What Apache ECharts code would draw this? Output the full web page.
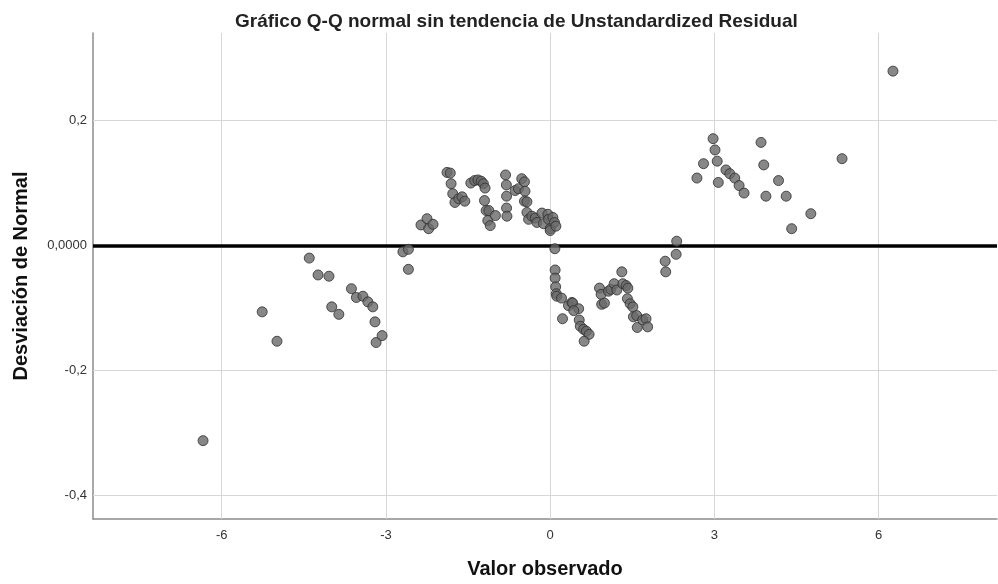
<!DOCTYPE html>
<html>
<head>
<meta charset="utf-8">
<title>Gráfico Q-Q normal sin tendencia</title>
<script src="https://cdn.jsdelivr.net/npm/echarts@6/dist/echarts.min.js"></script>
<style>
  html, body { margin: 0; padding: 0; background: #fff; }
  #chart { width: 998px; height: 584px; }
</style>
</head>
<body>
<div id="chart"></div>
<script>
// valores observados (eje X) y desviación de la normal (eje Y)
const observado = [
  -6.34, -5.26, -4.99, -4.40, -4.24, -4.04, -3.99, -3.86, -3.63, -3.54,
  -3.42, -3.33, -3.24, -3.20, -3.18, -3.07, -2.69, -2.59, -2.59, -2.36,
  -2.25, -2.22, -2.14, -1.885, -1.825, -1.81, -1.78, -1.74, -1.67, -1.61,
  -1.56, -1.45, -1.38, -1.32, -1.26, -1.22, -1.20, -1.19, -1.17, -1.14,
  -1.12, -1.095, -1.00, -0.815, -0.80, -0.797, -0.797, -0.79, -0.64, -0.58,
  -0.52, -0.47, -0.46, -0.47, -0.425, -0.425, -0.395, -0.334, -0.274, -0.243,
  -0.151, -0.122, -0.042, -0.03, 0.0, 0.0, 0.049, 0.078, 0.104, 0.085,
  0.09, 0.09, 0.10, 0.11, 0.12, 0.207, 0.225, 0.334, 0.395, 0.41,
  0.52, 0.43, 0.53, 0.55, 0.61, 0.66, 0.71, 0.62, 0.90, 0.93,
  0.94, 0.99, 1.064, 1.107, 1.168, 1.217, 1.308, 1.327, 1.387, 1.418,
  1.41, 1.46, 1.51, 1.52, 1.58, 1.59, 1.69, 1.75, 1.78, 2.10,
  2.11, 2.31, 2.30, 2.68, 2.80, 2.975, 3.01, 3.05, 3.07, 3.21,
  3.28, 3.37, 3.45, 3.54, 3.85, 3.90, 3.94, 4.17, 4.31, 4.41,
  4.76, 5.33, 6.26
];
const desviacion = [
  -0.312, -0.106, -0.153, -0.020, -0.047, -0.049, -0.098, -0.110, -0.069, -0.083,
  -0.081, -0.090, -0.098, -0.122, -0.155, -0.144, -0.010, -0.006, -0.038, 0.033,
  0.043, 0.027, 0.034, 0.117, 0.116, 0.099, 0.083, 0.069, 0.075, 0.078,
  0.071, 0.100, 0.104, 0.105, 0.103, 0.099, 0.072, 0.092, 0.056, 0.040,
  0.056, 0.032, 0.048, 0.113, 0.097, 0.079, 0.060, 0.047, 0.088, 0.091,
  0.107, 0.102, 0.087, 0.071, 0.070, 0.053, 0.042, 0.047, 0.044, 0.037,
  0.052, 0.035, 0.050, 0.042, 0.027, 0.024, 0.045, 0.037, 0.031, -0.005,
  -0.039, -0.052, -0.066, -0.077, -0.081, -0.084, -0.117, -0.096, -0.091, -0.092,
  -0.101, -0.104, -0.119, -0.129, -0.134, -0.137, -0.142, -0.153, -0.068, -0.078,
  -0.094, -0.092, -0.073, -0.070, -0.061, -0.071, -0.042, -0.061, -0.064, -0.068,
  -0.085, -0.093, -0.098, -0.114, -0.112, -0.131, -0.119, -0.117, -0.130, -0.025,
  -0.042, 0.007, -0.014, 0.108, 0.131, 0.171, 0.153, 0.135, 0.101, 0.121,
  0.115, 0.108, 0.096, 0.084, 0.165, 0.129, 0.079, 0.104, 0.079, 0.027,
  0.051, 0.139, 0.279
];
const xTicks = [-6, -3, 0, 3, 6];
const xTickLabels = ['-6', '-3', '0', '3', '6'];
const yTicks = [0.2, 0, -0.2, -0.4];
const yTickLabels = ['0,2', '0,0000', '-0,2', '-0,4'];

const puntos = observado.map((v, i) => [v, desviacion[i]]);
const FONT = '"Liberation Sans", Arial, sans-serif';
const gridColor = '#d6d6d6';

const chart = echarts.init(document.getElementById('chart'));

chart.setOption({
  backgroundColor: '#fff',
  animation: false,
  title: {
    text: 'Gráfico Q-Q normal sin tendencia de Unstandardized Residual',
    left: 230, top: 7,
    textStyle: { fontFamily: FONT, fontSize: 19, fontWeight: 'bold', color: '#222' }
  },
  grid: { left: 93, right: 1, top: 33, bottom: 64 },
  xAxis: {
    type: 'value', min: -8.35, max: 8.16,
    name: 'Valor observado', nameLocation: 'middle', nameGap: 40,
    nameTextStyle: { fontFamily: FONT, fontSize: 20, fontWeight: 'bold', color: '#111' },
    axisLine: { show: true, onZero: false, lineStyle: { color: '#8c8c8c', width: 1.5 } },
    axisTick: { show: false, customValues: xTicks },
    axisLabel: {
      customValues: xTicks, margin: 10,
      fontFamily: FONT, fontSize: 13, color: '#333',
      formatter: v => xTickLabels[xTicks.indexOf(v)]
    },
    splitLine: { show: false }
  },
  yAxis: {
    type: 'value', min: -0.4373, max: 0.34,
    name: 'Desviación de Normal', nameLocation: 'middle', nameGap: 62,
    nameTextStyle: { fontFamily: FONT, fontSize: 20, fontWeight: 'bold', color: '#111' },
    axisLine: { show: true, onZero: false, lineStyle: { color: '#8c8c8c', width: 1.5 } },
    axisTick: { show: false, customValues: yTicks },
    axisLabel: {
      customValues: yTicks, margin: 6,
      fontFamily: FONT, fontSize: 13, color: '#333',
      formatter: v => yTickLabels[yTicks.findIndex(t => Math.abs(t - v) < 1e-9)]
    },
    splitLine: { show: false }
  },
  series: [
    {
      // líneas de cuadrícula
      type: 'line', data: [], silent: true,
      markLine: {
        z: 1, silent: true, symbol: 'none', animation: false,
        label: { show: false },
        lineStyle: { color: gridColor, width: 1, type: 'solid' },
        data: xTicks.map(v => ({ xAxis: v })).concat(yTicks.filter(v => v !== 0).map(v => ({ yAxis: v })))
      }
    },
    {
      // línea de referencia en 0
      type: 'line', data: [], silent: true,
      markLine: {
        z: 2, silent: true, symbol: 'none', animation: false,
        label: { show: false },
        lineStyle: { color: '#000', width: 3.5, type: 'solid' },
        data: [{ yAxis: 0 }]
      }
    },
    {
      type: 'scatter', z: 3,
      data: puntos,
      symbol: 'circle', symbolSize: 10,
      itemStyle: { color: '#696969', borderColor: '#2e2e2e', borderWidth: 1 }
    }
  ]
});
</script>
</body>
</html>
